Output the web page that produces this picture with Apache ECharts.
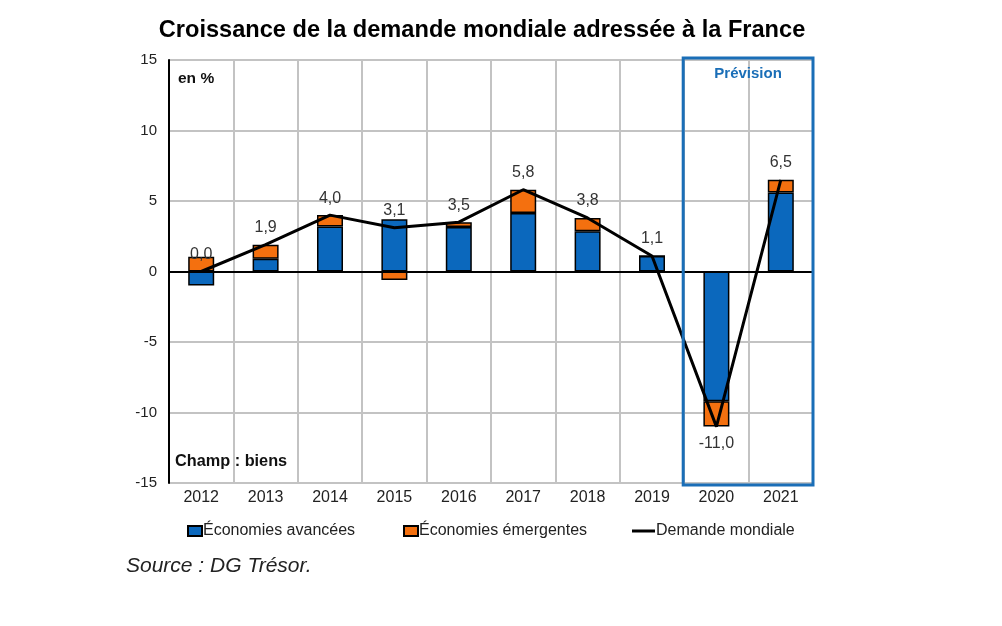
<!DOCTYPE html>
<html><head><meta charset="utf-8">
<script src="https://cdn.jsdelivr.net/npm/echarts@6/dist/echarts.min.js"></script>
<style>html,body{margin:0;padding:0;background:#fff}#c{width:1002px;height:626px}</style>
</head><body><div id="c"></div>
<script>
const categories = ['2012','2013','2014','2015','2016','2017','2018','2019','2020','2021'];
const avancees = [-1.0, 0.9, 3.2, 3.7, 3.15, 4.15, 2.85, 1.1, -9.2, 5.6];
const emergentes = [1.05, 1.0, 0.8, -0.6, 0.35, 1.65, 0.95, 0, -1.8, 0.9];
const demande = [0.0, 1.9, 4.0, 3.1, 3.5, 5.8, 3.8, 1.1, -11.0, 6.5];
const yTicks = {min: -15, max: 15, interval: 5};

const BLUE = '#0b68bd', ORANGE = '#f4700f', FONT = 'Liberation Sans, Arial, sans-serif';
const chart = echarts.init(document.getElementById('c'), null, {renderer: 'canvas'});
const fmt = v => v.toFixed(1).replace('.', ',');

const legendBase = {top: 523, padding: 0, itemWidth: 14, itemHeight: 10, itemGap: 0,
  textStyle: {fontFamily: FONT, fontSize: 16, color: '#222', padding: [0,0,0,-4]}, selectedMode: false};

chart.setOption({
  animation: false,
  title: {text: 'Croissance de la demande mondiale adressée à la France', left: 477, textAlign: 'center', top: 13,
    textStyle: {fontFamily: FONT, fontSize: 23.6, fontWeight: 'bold', color: '#000'}},
  grid: {left: 169, right: 189, top: 60, bottom: 143},
  legend: [
    Object.assign({}, legendBase, {left: 187, data: [{name: 'Économies avancées', icon: 'rect'}]}),
    Object.assign({}, legendBase, {left: 403, data: [{name: 'Économies émergentes', icon: 'rect'}]}),
    Object.assign({}, legendBase, {left: 632, itemWidth: 23, itemHeight: 3, data: [{name: 'Demande mondiale', icon: 'rect'}]})
  ],
  xAxis: {type: 'category', data: categories,
    axisLine: {show: false, onZero: false}, axisTick: {show: false},
    axisLabel: {fontFamily: FONT, fontSize: 16, color: '#222', margin: 7},
    splitLine: {show: true, lineStyle: {color: '#c3c3c3', width: 2}}},
  yAxis: {type: 'value', min: yTicks.min, max: yTicks.max, interval: yTicks.interval,
    axisLine: {show: true, lineStyle: {color: '#000', width: 2}}, axisTick: {show: false},
    axisLabel: {fontFamily: FONT, fontSize: 15, color: '#222', margin: 12},
    splitLine: {lineStyle: {color: '#c3c3c3', width: 2}}},
  series: [
    {name: 'Économies avancées', type: 'bar', stack: 's', barWidth: 26, data: avancees,
      itemStyle: {color: BLUE, borderColor: '#000', borderWidth: 1.5},
      markLine: {silent: true, symbol: ['none','none'], label: {show: false},
        lineStyle: {color: '#000', width: 2, type: 'solid'}, data: [{yAxis: 0}]}},
    {name: 'Économies émergentes', type: 'bar', stack: 's', barWidth: 26, data: emergentes,
      itemStyle: {color: ORANGE, borderColor: '#000', borderWidth: 1.5}},
    {name: 'Demande mondiale', type: 'line', z: 5, symbol: 'circle', symbolSize: 0, showSymbol: true,
      lineStyle: {color: '#000', width: 3}, itemStyle: {color: '#000'},
      labelLayout: {hideOverlap: false},
      data: demande.map(v => ({value: v, label: {position: v < 0 ? 'bottom' : 'top'}})),
      label: {show: true, distance: 9, fontFamily: FONT, fontSize: 16, color: '#333',
        formatter: p => fmt(p.value)}}
  ]
});

function drawBox() {
  const c19 = chart.convertToPixel({gridIndex: 0}, ['2019', 0])[0];
  const c20 = chart.convertToPixel({gridIndex: 0}, ['2020', 0])[0];
  const c21 = chart.convertToPixel({gridIndex: 0}, ['2021', 0])[0];
  const band = c20 - c19;
  const x0 = (c19 + c20) / 2 - 1, x1 = c21 + band / 2;
  const yTop = chart.convertToPixel({gridIndex: 0}, ['2020', yTicks.max])[1];
  const yBot = chart.convertToPixel({gridIndex: 0}, ['2020', yTicks.min])[1];
  const left0 = chart.convertToPixel({gridIndex: 0}, ['2012', 0])[0] - band / 2;
  chart.setOption({graphic: [
    {type: 'rect', shape: {x: x0, y: yTop - 2, width: x1 - x0, height: yBot - yTop + 4},
      style: {fill: 'none', stroke: '#1a6eb7', lineWidth: 3}, z: 10},
    {type: 'text', x: (x0 + x1) / 2, y: yTop + 14, style: {text: 'Prévision', fill: '#1a6eb7',
      font: 'bold 15px ' + FONT, textAlign: 'center', textVerticalAlign: 'middle'}, z: 10},
    {type: 'text', x: left0 + 9, y: yTop + 19, style: {text: 'en %', fill: '#111',
      font: 'bold 15.5px ' + FONT, textVerticalAlign: 'middle'}, z: 10},
    {type: 'text', x: left0 + 6, y: yBot - 21, style: {text: 'Champ : biens', fill: '#111',
      font: 'bold 16.3px ' + FONT, textVerticalAlign: 'middle'}, z: 10},
    {type: 'text', x: 126, y: 566, style: {text: 'Source : DG Trésor.', fill: '#222',
      font: 'italic 21px ' + FONT, textVerticalAlign: 'middle'}, z: 10}
  ]});
}
drawBox();
</script>
</body></html>
